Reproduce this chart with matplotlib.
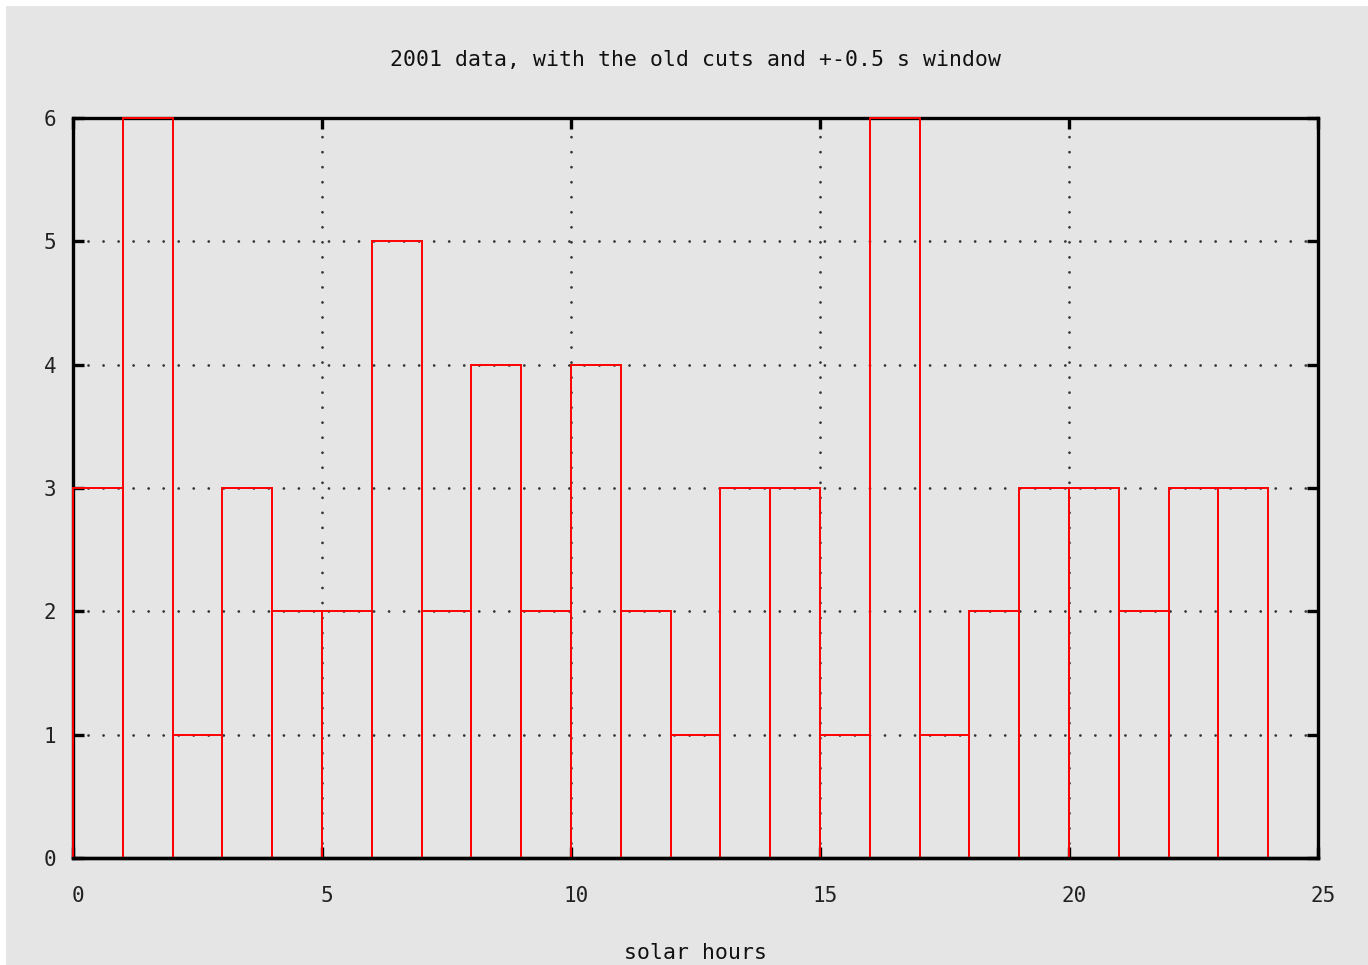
import matplotlib
matplotlib.use("Agg")
import matplotlib.pyplot as plt
from matplotlib.patches import Rectangle
from matplotlib.transforms import ScaledTranslation

# Event counts per solar hour bin (width 1 h)
hours = list(range(24))
counts = [3, 6, 1, 3, 2, 2, 5, 2, 4, 2, 4, 2, 1, 3, 3, 1, 6, 1, 2, 3, 3, 2, 3, 3]
x_ticks = [0, 5, 10, 15, 20, 25]
y_ticks = [0, 1, 2, 3, 4, 5, 6]
title = "2001 data, with the old cuts and +-0.5 s window"
xlabel = "solar hours"

bg = "#e5e5e5"
mono = ["DejaVu Sans Mono"]

fig = plt.figure(figsize=(13.68, 9.65), dpi=100, facecolor="white")
fig.patches.append(Rectangle((6 / 1368, 0), 1, 1 - 6 / 965, transform=fig.transFigure,
                             facecolor=bg, edgecolor="none", zorder=-10))

ax = fig.add_axes([73 / 1368, 1 - 858 / 965, (1318 - 73) / 1368, (858 - 118) / 965])
ax.set_facecolor(bg)

bars = ax.bar(hours, counts, width=1, align="edge", fill=False, edgecolor="#ff0000",
              linewidth=1.4, zorder=6)
for b in bars:
    b.set_clip_on(False)

ax.set_xlim(0, 25)
ax.set_ylim(0, 6)
ax.set_xticks(x_ticks)
ax.set_yticks(y_ticks)

for s in ax.spines.values():
    s.set_linewidth(2.4)
    s.set_color("black")
    s.set_zorder(5)
# baseline drawn over the bar bottoms
ax.axhline(0, color="black", linewidth=2.4, zorder=7, clip_on=False)

ax.tick_params(direction="in", length=8, width=2.4, colors="black",
               labelsize=15, top=True, right=True, pad=20)
ax.tick_params(axis="y", pad=12)
shift = ScaledTranslation(5 / 100, 0, fig.dpi_scale_trans)
for lab in ax.get_xticklabels() + ax.get_yticklabels():
    lab.set_family(mono)
    lab.set_color("#222222")
for lab in ax.get_xticklabels():
    lab.set_transform(lab.get_transform() + shift)

ax.grid(True, color="#333333", linestyle=(0, (0.01, 5.4)), linewidth=2.0,
        dash_capstyle="round", zorder=1)

fig.text(695 / 1368, 1 - 60 / 965, title, ha="center", va="center",
         family=mono, fontsize=15.5, color="#111111")
fig.text(695 / 1368, 1 - 953 / 965, xlabel, ha="center", va="center",
         family=mono, fontsize=15.5, color="#111111")

fig.savefig("out.png", dpi=100, facecolor="white")
